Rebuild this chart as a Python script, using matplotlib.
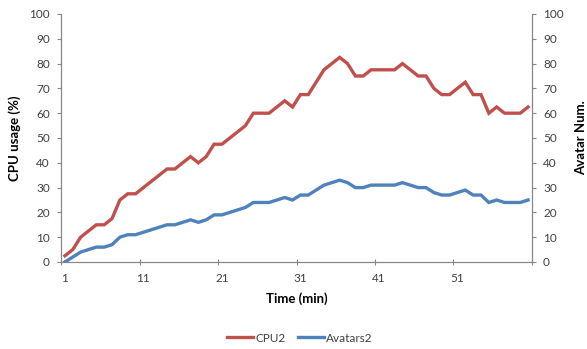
import matplotlib
matplotlib.use("Agg")
import matplotlib.pyplot as plt
import numpy as np

plt.rcParams['font.family'] = ['Lato', 'DejaVu Sans']

minutes = list(range(1, 61))
cpu2 = [2.5, 5, 10, 12.5, 15, 15, 17.5, 25, 27.5, 27.5,
        30, 32.5, 35, 37.5, 37.5, 40, 42.5, 40, 42.5, 47.5,
        47.5, 50, 52.5, 55, 60, 60, 60, 62.5, 65, 62.5,
        67.5, 67.5, 72.5, 77.5, 80, 82.5, 80, 75, 75, 77.5,
        77.5, 77.5, 77.5, 80, 77.5, 75, 75, 70, 67.5, 67.5,
        70, 72.5, 67.5, 67.5, 60, 62.5, 60, 60, 60, 62.5]
avatars2 = [0, 2, 4, 5, 6, 6, 7, 10, 11, 11,
            12, 13, 14, 15, 15, 16, 17, 16, 17, 19,
            19, 20, 21, 22, 24, 24, 24, 25, 26, 25,
            27, 27, 29, 31, 32, 33, 32, 30, 30, 31,
            31, 31, 31, 32, 31, 30, 30, 28, 27, 27,
            28, 29, 27, 27, 24, 25, 24, 24, 24, 25]
x_tick_labels = ['1', '11', '21', '31', '41', '51']
y_ticks = list(range(0, 101, 10))

W, H = 587, 349
fig = plt.figure(figsize=(W / 100, H / 100), dpi=100)
ax = fig.add_axes([61 / W, 1 - 262 / H, (532 - 61) / W, (262 - 14) / H])
ax2 = ax.twinx()

red = '#C0504D'
blue = '#4F81BD'
gray = '#868686'
txt = '#404040'

l1, = ax.plot(minutes, cpu2, color=red, lw=2.4, solid_joinstyle='miter', label='CPU2')
l2, = ax2.plot(minutes, avatars2, color=blue, lw=2.4, solid_joinstyle='miter', label='Avatars2')

for a in (ax, ax2):
    a.set_ylim(0, 100)
    a.set_xlim(0.5, 60.5)
    a.set_yticks(y_ticks)
    for s in a.spines.values():
        s.set_color(gray)
    a.spines['top'].set_visible(False)

ax.tick_params(axis='y', direction='out', length=3, color=gray, labelsize=8.5, labelcolor=txt, pad=5)
ax2.tick_params(axis='y', direction='out', length=3, color=gray, labelsize=8.5, labelcolor=txt, pad=5)

# category axis: tick marks at category boundaries, labels on categories
ax.set_xticks([0.5 + 10 * k for k in range(7)])
ax.set_xticklabels([])
ax.set_xticks([1 + 10 * k for k in range(6)], minor=True)
ax.set_xticklabels(x_tick_labels, minor=True)
ax.tick_params(axis='x', which='major', direction='inout', length=5, color=gray)
ax.tick_params(axis='x', which='minor', length=0, labelsize=8.5, labelcolor=txt, pad=8)

ax.set_xlabel('Time (min)', fontsize=9.5, fontweight='bold', color='black', labelpad=6)
ax.set_ylabel('CPU usage (%)', fontsize=9.5, fontweight='bold', color='black', labelpad=6)
ax2.set_ylabel('Avatar Num.', fontsize=9.5, fontweight='bold', color='black', rotation=90, labelpad=8)

fig.legend(handles=[l1, l2], loc='center', bbox_to_anchor=(300 / W, 1 - 338 / H),
           ncol=2, frameon=False, fontsize=8.5, handlelength=2.2, handletextpad=0.2,
           columnspacing=1.0, labelcolor=txt)

fig.savefig('out.png', dpi=100, facecolor='white')
